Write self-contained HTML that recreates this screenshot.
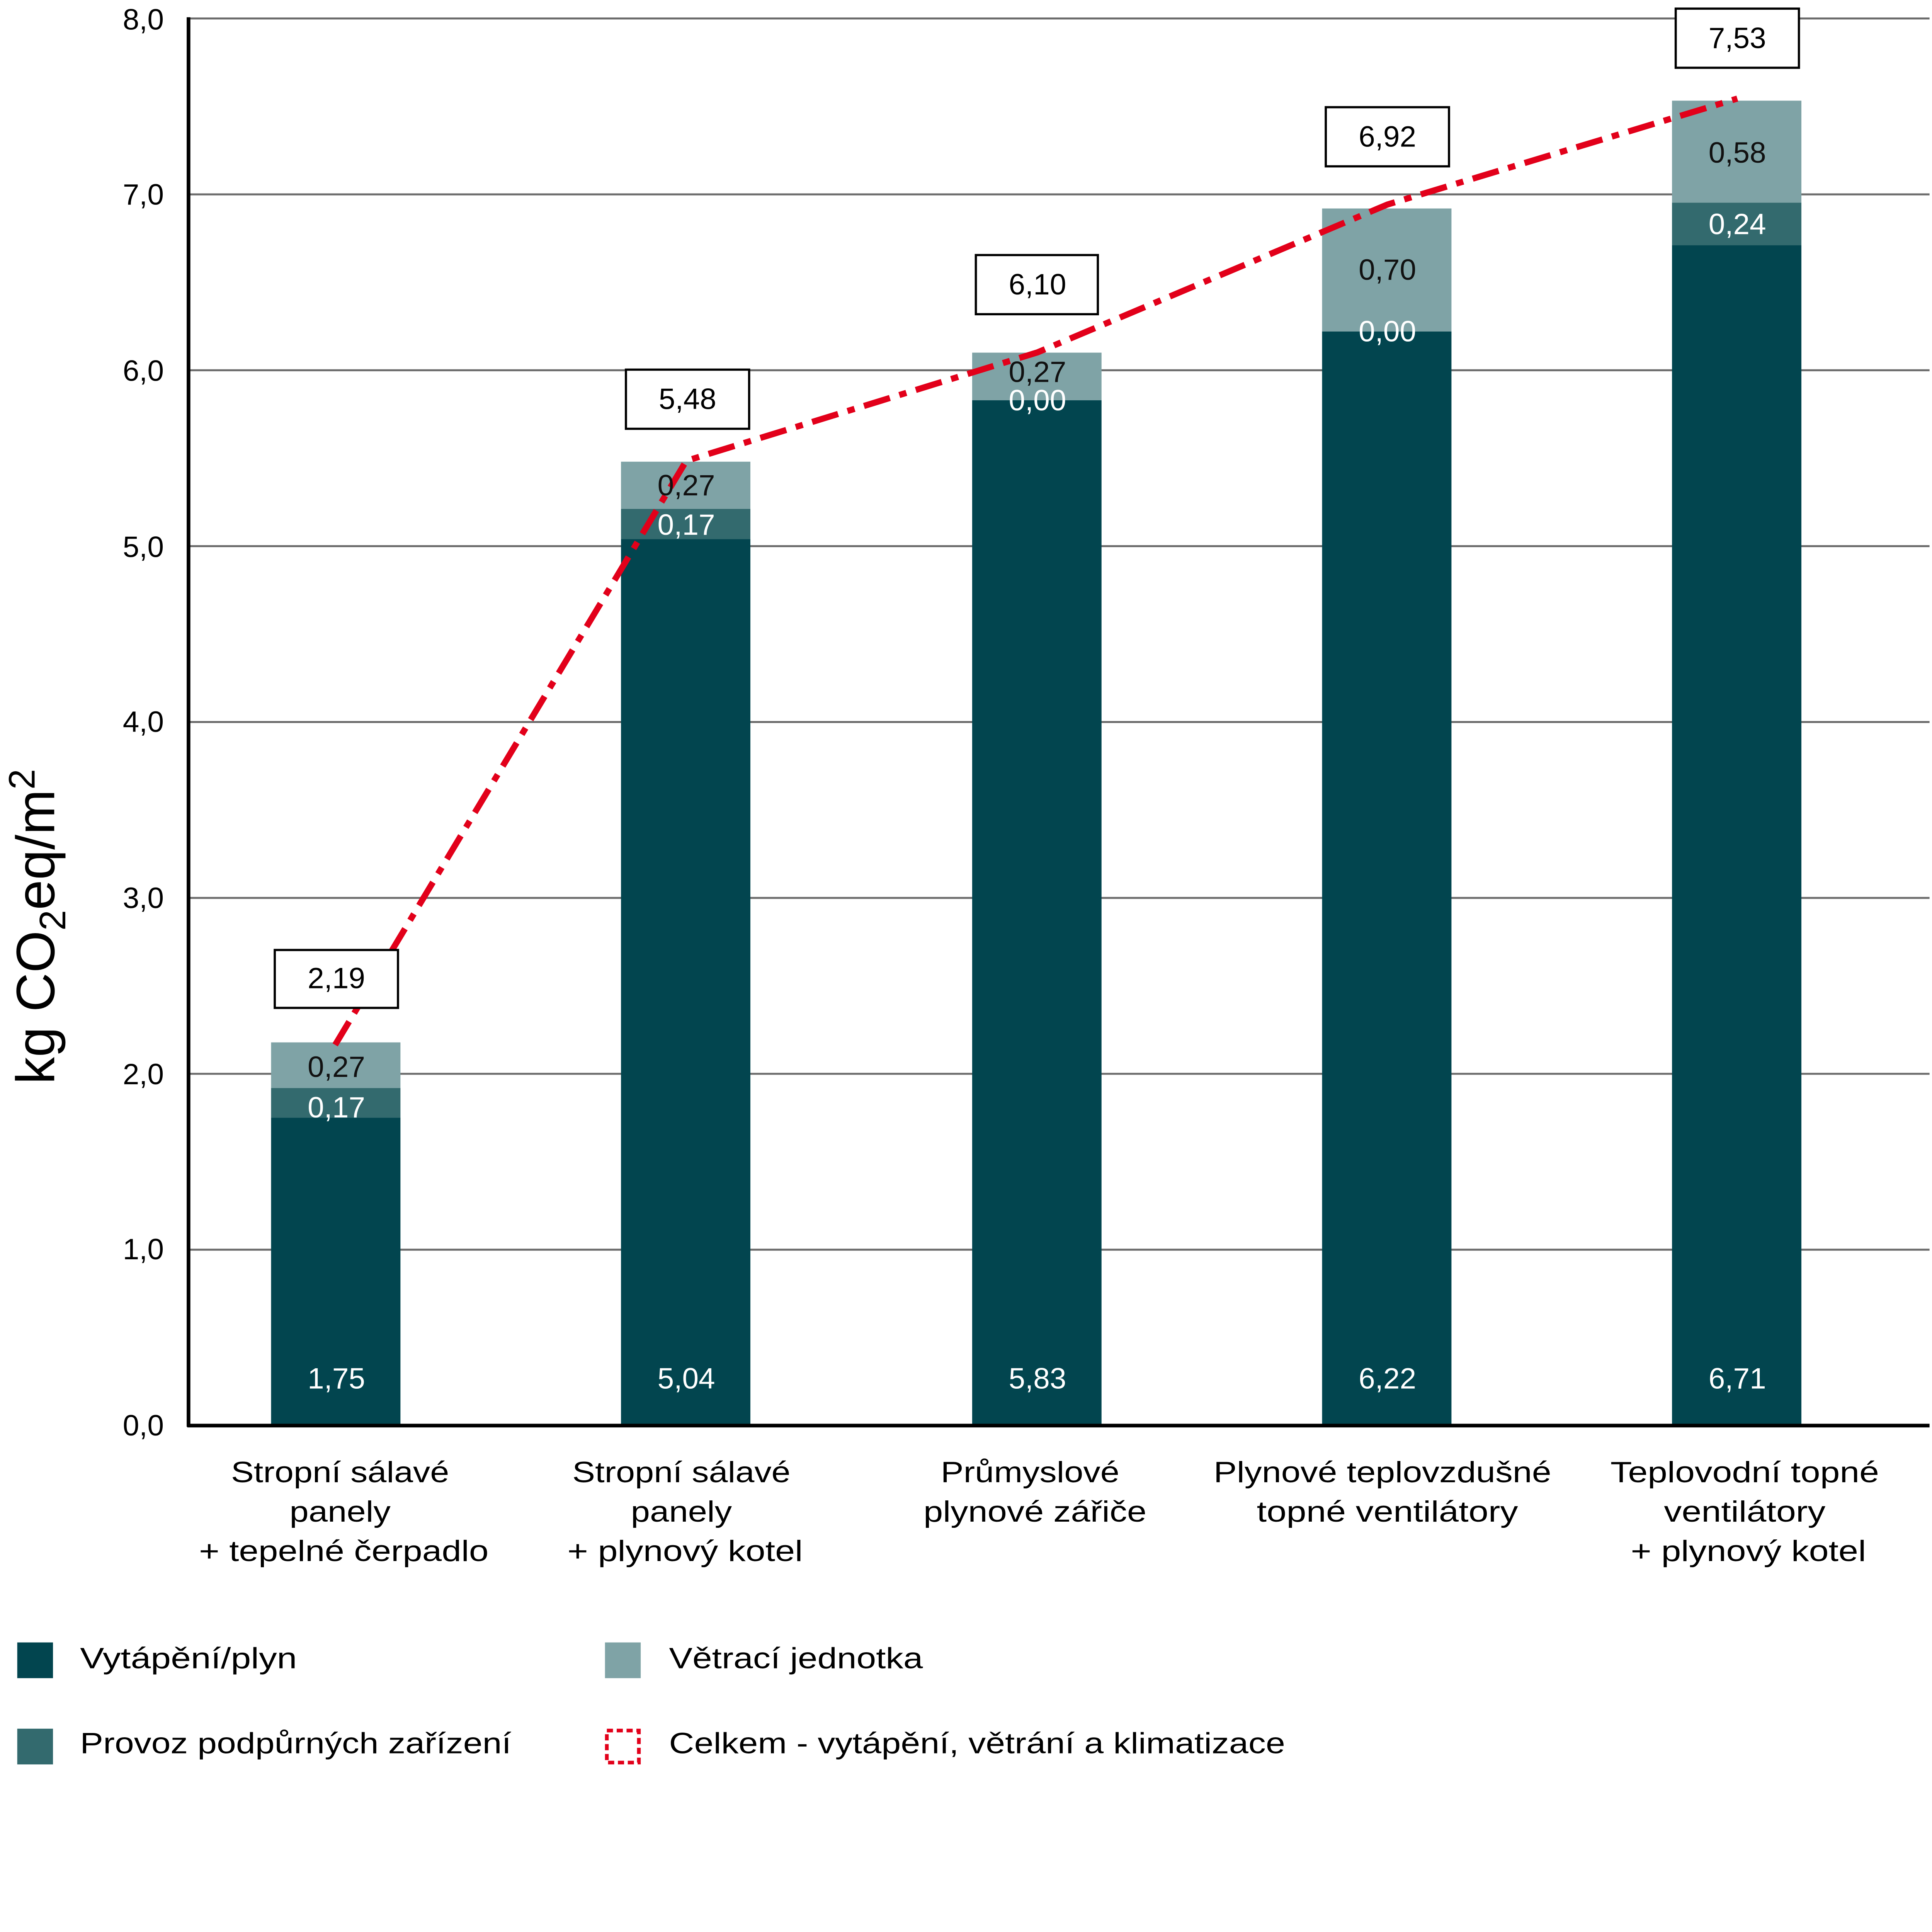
<!DOCTYPE html>
<html><head><meta charset="utf-8"><style>
html,body{margin:0;padding:0;background:#fff;overflow:hidden;}
svg{display:block;width:100vw;height:93.418vw;position:absolute;left:0;top:0;}
text{font-family:"Liberation Sans",sans-serif;}
</style></head><body>
<svg viewBox="0 0 1568 1464.8" preserveAspectRatio="none" xmlns="http://www.w3.org/2000/svg">
<rect width="1568" height="1465" fill="#fff"/>
<g stroke="#6b6b6b" stroke-width="1.6">
<line x1="153" y1="15" x2="1566" y2="15"/>
<line x1="153" y1="157.75" x2="1566" y2="157.75"/>
<line x1="153" y1="300.5" x2="1566" y2="300.5"/>
<line x1="153" y1="443.25" x2="1566" y2="443.25"/>
<line x1="153" y1="586" x2="1566" y2="586"/>
<line x1="153" y1="728.75" x2="1566" y2="728.75"/>
<line x1="153" y1="871.5" x2="1566" y2="871.5"/>
<line x1="153" y1="1014.25" x2="1566" y2="1014.25"/>
</g>
<g font-size="24" fill="#000" text-anchor="end">
<text x="133" y="24">8,0</text>
<text x="133" y="166">7,0</text>
<text x="133" y="309">6,0</text>
<text x="133" y="452">5,0</text>
<text x="133" y="594">4,0</text>
<text x="133" y="737">3,0</text>
<text x="133" y="880">2,0</text>
<text x="133" y="1022">1,0</text>
<text x="133" y="1165">0,0</text>
</g>
<text transform="translate(44,752) rotate(-90)" font-size="44" text-anchor="middle">kg CO<tspan font-size="30" dy="9">2</tspan><tspan dy="-9">eq/m</tspan><tspan font-size="30" dy="-16">2</tspan></text>
<g>
<rect x="220" y="907" width="105" height="250" fill="#02454f"/>
<rect x="220" y="883" width="105" height="24" fill="#336a6e"/>
<rect x="220" y="846" width="105" height="37" fill="#7fa3a6"/>
<rect x="504" y="437.5" width="105" height="720" fill="#02454f"/>
<rect x="504" y="413" width="105" height="24.5" fill="#336a6e"/>
<rect x="504" y="374.7" width="105" height="38.3" fill="#7fa3a6"/>
<rect x="789" y="324.8" width="105" height="833" fill="#02454f"/>
<rect x="789" y="286.2" width="105" height="38.6" fill="#7fa3a6"/>
<rect x="1073" y="269" width="105" height="888" fill="#02454f"/>
<rect x="1073" y="169.2" width="105" height="99.8" fill="#7fa3a6"/>
<rect x="1357" y="199" width="105" height="958" fill="#02454f"/>
<rect x="1357" y="164.5" width="105" height="34.5" fill="#336a6e"/>
<rect x="1357" y="81.7" width="105" height="82.8" fill="#7fa3a6"/>
</g>
<line x1="153" y1="14" x2="153" y2="1158" stroke="#000" stroke-width="3"/>
<line x1="152" y1="1157" x2="1566" y2="1157" stroke="#000" stroke-width="3"/>
<polyline points="272,848 557,374 842,286 1126,166 1410,80" fill="none" stroke="#e2001a" stroke-width="5" stroke-dasharray="22,8,6,8"/>
<g font-size="24" text-anchor="middle">
<g fill="#fff">
<text x="273" y="1127">1,75</text><text x="557" y="1127">5,04</text><text x="842" y="1127">5,83</text><text x="1126" y="1127">6,22</text><text x="1410" y="1127">6,71</text>
<text x="273" y="907">0,17</text><text x="557" y="434">0,17</text><text x="842" y="333">0,00</text><text x="1126" y="277">0,00</text><text x="1410" y="190">0,24</text>
</g>
<g fill="#111">
<text x="273" y="874">0,27</text><text x="557" y="402">0,27</text><text x="842" y="310">0,27</text><text x="1126" y="227">0,70</text><text x="1410" y="132">0,58</text>
</g>
</g>
<g fill="#fff" stroke="#000" stroke-width="1.8">
<rect x="223" y="771" width="100" height="47"/>
<rect x="508" y="300" width="100" height="48"/>
<rect x="792" y="207" width="99" height="48"/>
<rect x="1076" y="87" width="100" height="48"/>
<rect x="1360" y="7" width="100" height="48"/>
</g>
<g font-size="24" text-anchor="middle" fill="#000">
<text x="273" y="802">2,19</text>
<text x="558" y="332">5,48</text>
<text x="842" y="239">6,10</text>
<text x="1126" y="119">6,92</text>
<text x="1410" y="39">7,53</text>
</g>
<g font-size="24" text-anchor="middle" fill="#000" lengthAdjust="spacingAndGlyphs">
<text x="276" y="1203" textLength="177" lengthAdjust="spacingAndGlyphs">Stropní sálavé</text><text x="276" y="1235" textLength="82" lengthAdjust="spacingAndGlyphs">panely</text><text x="279" y="1267" textLength="235" lengthAdjust="spacingAndGlyphs">+ tepelné čerpadlo</text>
<text x="553" y="1203" textLength="177" lengthAdjust="spacingAndGlyphs">Stropní sálavé</text><text x="553" y="1235" textLength="82" lengthAdjust="spacingAndGlyphs">panely</text><text x="556" y="1267" textLength="191" lengthAdjust="spacingAndGlyphs">+ plynový kotel</text>
<text x="836" y="1203" textLength="145" lengthAdjust="spacingAndGlyphs">Průmyslové</text><text x="840" y="1235" textLength="181" lengthAdjust="spacingAndGlyphs">plynové zářiče</text>
<text x="1122" y="1203" textLength="274" lengthAdjust="spacingAndGlyphs">Plynové teplovzdušné</text><text x="1126" y="1235" textLength="212" lengthAdjust="spacingAndGlyphs">topné ventilátory</text>
<text x="1416" y="1203" textLength="218" lengthAdjust="spacingAndGlyphs">Teplovodní topné</text><text x="1416" y="1235" textLength="131" lengthAdjust="spacingAndGlyphs">ventilátory</text><text x="1419" y="1267" textLength="191" lengthAdjust="spacingAndGlyphs">+ plynový kotel</text>
</g>
<rect x="14" y="1333" width="29" height="29" fill="#02454f"/>
<rect x="14" y="1403" width="29" height="29" fill="#336a6e"/>
<rect x="491" y="1333" width="29" height="29" fill="#7fa3a6"/>
<rect x="492.5" y="1404.5" width="26" height="26" fill="none" stroke="#e2001a" stroke-width="3" stroke-dasharray="5,3"/>
<g font-size="24" fill="#000">
<text x="65" y="1354" textLength="176" lengthAdjust="spacingAndGlyphs">Vytápění/plyn</text>
<text x="65" y="1423" textLength="350" lengthAdjust="spacingAndGlyphs">Provoz podpůrných zařízení</text>
<text x="543" y="1354" textLength="206" lengthAdjust="spacingAndGlyphs">Větrací jednotka</text>
<text x="543" y="1423" textLength="500" lengthAdjust="spacingAndGlyphs">Celkem - vytápění, větrání a klimatizace</text>
</g>
</svg>
</body></html>
